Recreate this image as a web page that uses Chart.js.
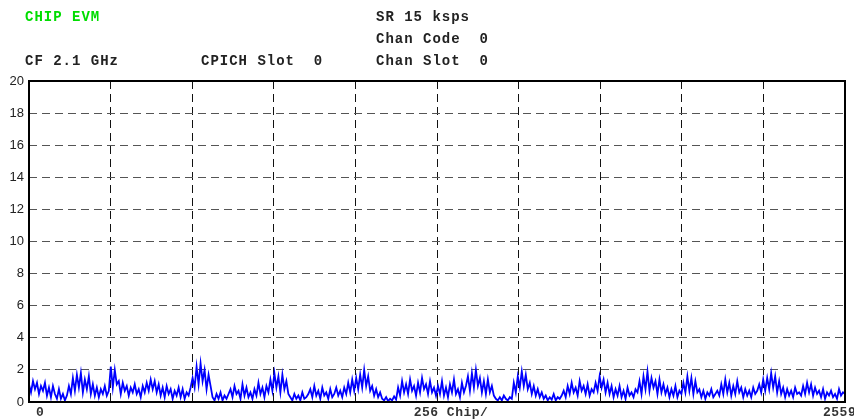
<!DOCTYPE html>
<html>
<head>
<meta charset="utf-8">
<script src="https://cdn.jsdelivr.net/npm/chart.js@4.4.1/dist/chart.umd.min.js"></script>
<style>
  html, body { margin: 0; padding: 0; background: #ffffff; }
  #wrap { position: relative; width: 854px; height: 420px; }
</style>
</head>
<body>
<div id="wrap"><canvas id="evm" width="854" height="420"></canvas></div>
<script>
// Chip EVM trace, one value per sample (percent), chip 0 .. 2559
const chipEvm = [
  1.1, 0.6, 1.3, 0.8, 1.2, 0.5, 1.0, 0.7, 1.2, 0.4, 0.9, 0.3, 1.0, 0.5, 0.2, 0.8, 0.2, 0.5, 0.1, 0.4,
  1.0, 0.5, 1.5, 0.7, 1.7, 0.9, 1.8, 0.6, 1.4, 0.8, 1.6, 0.5, 1.1, 0.4, 0.9, 0.3, 0.8, 0.5, 1.0, 0.4, 0.7,

  2.2, 0.9, 2.0, 1.1, 1.3, 0.5, 1.2, 0.7, 1.0, 0.4, 0.9, 0.6, 1.1, 0.5, 0.8, 0.3, 1.0, 0.6, 1.2, 0.7,
  1.4, 0.8, 1.3, 0.6, 1.1, 0.4, 0.9, 0.3, 1.0, 0.5, 0.8, 0.2, 0.7, 0.4, 0.9, 0.3, 0.8, 0.2, 0.6, 0.4, 0.9,

  1.5, 0.9, 2.2, 1.1, 2.4, 1.3, 2.0, 0.8, 1.7, 1.0, 0.3, 0.1, 0.5, 0.2, 0.6, 0.1, 0.4, 0.2, 0.5,
  0.8, 0.3, 1.0, 0.5, 0.7, 0.2, 1.1, 0.4, 0.9, 0.3, 0.6, 0.2, 0.8, 0.4, 1.2, 0.5, 0.9, 0.3, 1.0, 0.6, 1.4, 0.7,

  1.8, 0.9, 1.6, 0.6, 1.7, 0.8, 1.3, 0.5, 0.3, 0.1, 0.5, 0.2, 0.4, 0.1, 0.6, 0.2, 0.3, 0.5,
  0.8, 0.3, 1.0, 0.4, 0.7, 0.2, 0.9, 0.4, 0.6, 0.2, 0.8, 0.3, 0.5, 0.9, 0.4, 0.7, 0.3, 0.9, 0.5, 1.2, 0.6, 1.4, 0.7,

  1.5, 0.8, 1.7, 0.9, 2.0, 1.0, 1.6, 0.7, 1.0, 0.4, 0.8, 0.3, 0.6, 0.2, 0.1, 0.3, 0.05, 0.2, 0.1, 0.35, 0.15,
  0.9, 0.4, 1.3, 0.6, 1.1, 0.5, 1.4, 0.7, 1.0, 0.4, 1.2, 0.6, 1.5, 0.8, 1.1, 0.5, 1.3, 0.6, 0.9, 0.4,

  1.0, 0.5, 1.3, 0.4, 0.9, 0.3, 1.1, 0.6, 1.4, 0.5, 0.8, 0.3, 1.2, 0.6, 1.0, 1.6, 0.7, 1.8, 0.9, 2.0, 1.0, 1.5, 0.6,
  1.3, 0.5, 1.4, 0.6, 1.0, 0.4, 0.2, 0.1, 0.3, 0.1, 0.4, 0.2, 0.1, 0.3, 0.2, 1.2, 0.6, 1.6,

  0.9, 1.9, 1.0, 1.7, 0.8, 1.2, 0.5, 1.0, 0.4, 0.8, 0.3, 0.6, 0.2, 0.4, 0.1, 0.3, 0.15, 0.5, 0.1, 0.3, 0.2, 0.4,
  0.7, 0.3, 1.0, 0.5, 1.2, 0.6, 0.9, 0.4, 1.3, 0.7, 1.0, 0.5, 1.1, 0.4, 0.8, 0.6, 1.2, 0.7, 1.6,

  0.9, 1.4, 0.6, 1.2, 0.5, 1.0, 0.3, 0.8, 0.4, 1.0, 0.3, 0.7, 0.2, 0.9, 0.4, 0.6, 0.3, 0.8,
  0.6, 1.3, 0.5, 1.6, 0.8, 1.9, 0.7, 1.5, 0.9, 1.3, 0.5, 1.4, 0.6, 1.1, 0.5, 0.9, 0.3, 0.8, 0.4, 1.0, 0.3, 0.7, 0.5,

  1.2, 0.6, 1.6, 0.7, 1.5, 0.5, 1.3, 0.6, 0.8, 0.3, 0.7, 0.2, 0.6, 0.4, 0.8, 0.3, 0.5, 0.7,
  0.4, 1.1, 0.5, 1.4, 0.6, 1.2, 0.4, 1.0, 0.5, 1.3, 0.6, 0.9, 0.3, 0.8, 0.4, 0.7, 0.3, 0.9, 0.5, 0.7, 1.1, 0.6, 1.4,

  0.7, 1.5, 0.8, 1.8, 0.9, 1.6, 0.6, 1.3, 0.5, 0.9, 0.3, 0.8, 0.4, 0.7, 0.3, 0.9, 0.5, 0.6, 0.4,
  1.0, 0.5, 1.2, 0.6, 1.1, 0.4, 0.9, 0.5, 0.7, 0.3, 0.8, 0.2, 0.6, 0.4, 0.7, 0.3, 0.5, 0.2, 0.8, 0.4, 0.6, 0.5
];

const chipFirst = 0;
const chipLast = 2559;
const xDivisions = 10;

const yTicks = [0, 2, 4, 6, 8, 10, 12, 14, 16, 18, 20];

// bottom axis captions: [text, chip position, alignment]
const xCaptions = [
  ['0', 0, 'left'],
  ['256 Chip/', 1279.5, 'center'],
  ['2559', 2559, 'left']
];

// header captions
const headerLines = [
  { text: 'CHIP EVM', x: 25, y: 17, color: '#00dd00' },
  { text: 'SR 15 ksps', x: 376, y: 17, color: '#222222' },
  { text: 'Chan Code  0', x: 376, y: 39, color: '#222222' },
  { text: 'CF 2.1 GHz', x: 25, y: 61, color: '#222222' },
  { text: 'CPICH Slot  0', x: 201, y: 61, color: '#222222' },
  { text: 'Chan Slot  0', x: 376, y: 61, color: '#222222' }
];

const points = chipEvm.map((v, i) => ({
  x: chipFirst + i * (chipLast - chipFirst) / (chipEvm.length - 1),
  y: v
}));

const frameAndText = {
  id: 'frameAndText',
  afterDraw(chart) {
    const { ctx, chartArea: a, scales } = chart;
    ctx.save();
    // plot frame
    ctx.strokeStyle = '#000000';
    ctx.lineWidth = 2;
    ctx.setLineDash([]);
    ctx.strokeRect(a.left, a.top, a.right - a.left, a.bottom - a.top);

    // header text
    ctx.font = 'bold 14px "Liberation Mono", "Courier New", monospace';
    ctx.letterSpacing = '1px';
    ctx.textBaseline = 'middle';
    ctx.textAlign = 'left';
    headerLines.forEach(h => {
      ctx.fillStyle = h.color;
      ctx.fillText(h.text, h.x, h.y);
    });

    // bottom captions
    ctx.font = 'bold 13px "Liberation Mono", "Courier New", monospace';
    ctx.letterSpacing = '0.5px';
    ctx.fillStyle = '#333333';
    xCaptions.forEach(([t, v, al]) => {
      let px = scales.x.getPixelForValue(v);
      if (al === 'left' && v === chipFirst) px += 7;
      if (al === 'left' && v === chipLast) px -= 22;
      if (al === 'center') px += 14;
      ctx.textAlign = al;
      ctx.fillText(t, px, 413);
    });
    ctx.restore();
  }
};

new Chart(document.getElementById('evm'), {
  type: 'line',
  data: {
    datasets: [{
      data: points,
      borderColor: '#0000ff',
      borderWidth: 1.8,
      pointRadius: 0,
      tension: 0,
      fill: false
    }]
  },
  options: {
    responsive: false,
    animation: false,
    events: [],
    layout: { padding: { top: 81, right: 9, left: 0, bottom: 0 } },
    plugins: { legend: { display: false }, tooltip: { enabled: false } },
    scales: {
      x: {
        type: 'linear',
        min: chipFirst,
        max: chipLast,
        afterBuildTicks(scale) {
          const step = (chipLast - chipFirst) / xDivisions;
          scale.ticks = Array.from({ length: xDivisions + 1 }, (_, i) => ({ value: chipFirst + i * step }));
        },
        afterFit(scale) { scale.height = 18; },
        ticks: { display: false },
        grid: {
          drawTicks: false,
          color: ctx => (ctx.index === 0 || ctx.index === xDivisions) ? 'rgba(0,0,0,0)' : '#111111',
          lineWidth: 1
        },
        border: { display: false, dash: [8, 5] }
      },
      y: {
        min: 0,
        max: 20,
        afterBuildTicks(scale) {
          scale.ticks = yTicks.map(v => ({ value: v }));
        },
        afterFit(scale) { scale.width = 29; },
        ticks: {
          color: '#222222',
          padding: 5,
          font: { family: '"Liberation Sans", Arial, sans-serif', size: 13 }
        },
        border: { display: false, dash: [8, 5] },
        grid: {
          drawTicks: false,
          color: ctx => (ctx.index === 0 || ctx.index === yTicks.length - 1) ? 'rgba(0,0,0,0)' : '#555555',
          lineWidth: 1
        }
      }
    }
  },
  plugins: [frameAndText]
});
</script>
</body>
</html>
